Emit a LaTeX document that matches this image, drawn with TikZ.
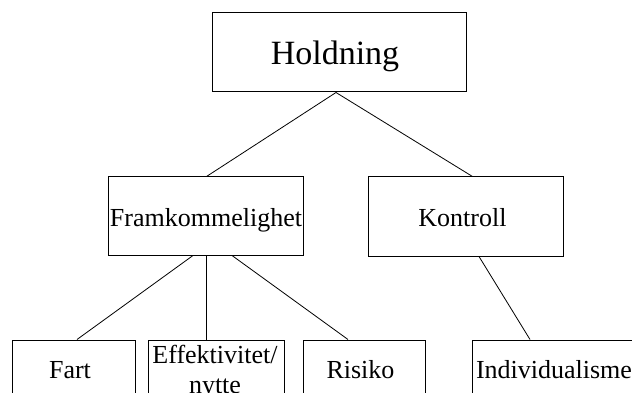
\documentclass[tikz,border=0pt]{standalone}
\usepackage{fontspec}
\setmainfont{Liberation Serif}
\begin{document}
\begin{tikzpicture}[x=1pt,y=-1pt,
  box/.style={draw, line width=1pt, rectangle, inner sep=0pt},
  lbl/.style={anchor=base, inner sep=0pt, font=\fontsize{26}{30}\selectfont},
  big/.style={anchor=base, inner sep=0pt, font=\fontsize{34}{40}\selectfont},
  link/.style={draw, line width=0.8pt}]
\useasboundingbox (0,0) rectangle (632,393);
\clip (0,0) rectangle (632,393);

% boxes
\node[box, minimum width=254pt, minimum height=79pt] (hold) at (339,52.5) {};
\node[box, minimum width=195pt, minimum height=78pt] (fram) at (205.5,216) {};
\node[box, minimum width=195pt, minimum height=79pt] (kontroll) at (465.5,216.5) {};
\node[box, minimum width=123pt, minimum height=60pt] (fart) at (73.5,370) {};
\node[box, minimum width=136pt, minimum height=60pt] (effekt) at (216,370) {};
\node[box, minimum width=122pt, minimum height=60pt] (risiko) at (364,370) {};
\node[box, minimum width=168pt, minimum height=60pt] (indiv) at (556,370) {};

% labels
\node[big] (holdT) at (335,65) {Holdning};
\node[lbl] (framT) at (206,226) {Framkommelighet};
\node[lbl] (kontrollT) at (462.5,226) {Kontroll};
\node[lbl] (fartT) at (70,378) {Fart};
\node[lbl] (effektT) at (215,363) {Effektivitet/};
\node[lbl] (nytteT) at (215,393) {nytte};
\node[lbl] (risikoT) at (360.5,378) {Risiko};
\node[lbl] (indivT) at (554,378) {Individualisme};

% connectors
\path[link] ([xshift=-3pt]hold.south) -- ([xshift=1pt]fram.north);
\path[link] ([xshift=-3pt]hold.south) -- ([xshift=7pt]kontroll.north);
\path[link] ([xshift=-12.5pt]fram.south) -- ([xshift=3.5pt]fart.north);
\path[link] ([xshift=0.5pt]fram.south) -- ([xshift=-10pt]effekt.north);
\path[link] ([xshift=26.5pt]fram.south) -- ([xshift=-16pt]risiko.north);
\path[link] ([xshift=13.5pt]kontroll.south) -- ([xshift=-26pt]indiv.north);
\end{tikzpicture}
\end{document}
